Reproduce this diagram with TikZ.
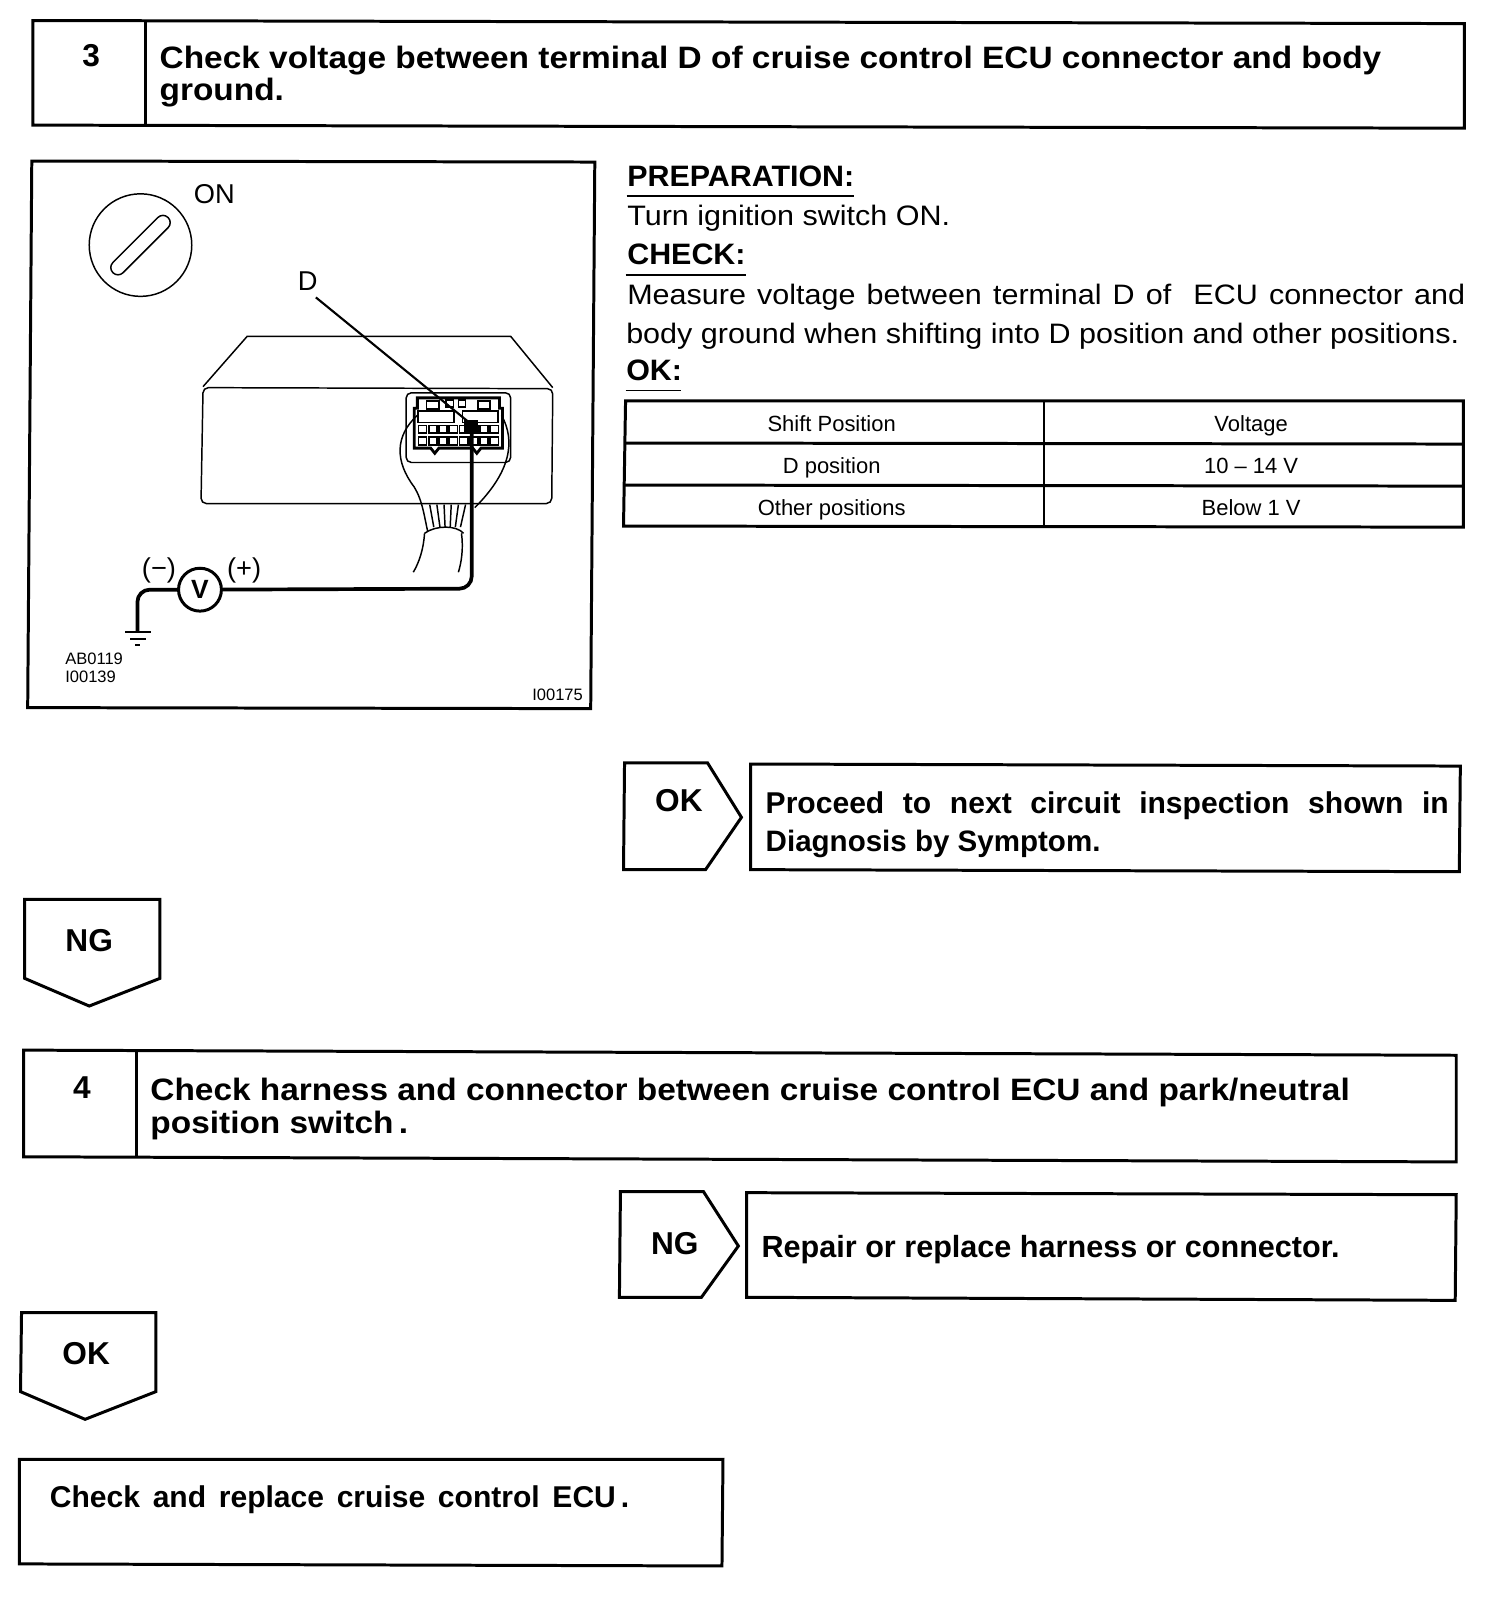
\documentclass[tikz,border=0pt]{standalone}
\usepackage{fontspec}
\setmainfont{Liberation Sans}
\newfontfamily\titlefont[FakeStretch=1.08]{Liberation Sans}
\newfontfamily\bodyfont[FakeStretch=1.085]{Liberation Sans}
\newfontfamily\prepfont[FakeStretch=1.03]{Liberation Sans}
\usetikzlibrary{calc}

\tikzset{
  boxline/.style={line width=0.85pt, line join=miter},
  thinline/.style={line width=0.42pt},
  probeline/.style={line width=1.05pt, rounded corners=3.5pt},
  titletext/.style={anchor=base west, inner sep=0pt, font=\fontsize{8.8}{10}\titlefont\bfseries},
  headtext/.style={anchor=base west, inner sep=0pt, font=\fontsize{8.55}{10}\selectfont\bfseries},
  prephead/.style={anchor=base west, inner sep=0pt, font=\fontsize{8.4}{10}\prepfont\bfseries},
  bodytext/.style={anchor=base west, inner sep=0pt, font=\fontsize{8}{10}\bodyfont},
  picttext/.style={inner sep=0pt, font=\fontsize{7.75}{10}\selectfont},
  celltext/.style={anchor=base, inner sep=0pt, font=\fontsize{6.25}{8}\selectfont},
  smalltext/.style={inner sep=0pt, font=\fontsize{4.7}{6}\selectfont},
  tagtext/.style={inner sep=0pt, font=\fontsize{9}{10}\selectfont\bfseries},
}

\begin{document}
\begin{tikzpicture}[x=0.10252mm, y=-0.10252mm]
  \useasboundingbox (0,0) rectangle (1467,1568);

  % step 3 title
  \draw[boxline] (32,20) -- (1428,23) -- (1428,125) -- (32,122) -- cycle;
  \draw[boxline] (142,21) -- (142,123);
  \node[tagtext] (numThree) at (89,54) {3};
  \node[titletext] (titleA) at (155,67) {Check voltage between terminal D of cruise control ECU connector and body};
  \node[titletext] (titleB) at (155,98) {ground.};

  % picture frame
  \draw[boxline] (31,157) -- (580,158) -- (576,691) -- (27,690) -- cycle;

  % ignition switch
  \draw[thinline] (137,239) circle (50);
  \draw[thinline, rotate around={45:(137,239)}, rounded corners=2pt] (99,232) rectangle (175,246);
  \node[picttext] (labelOn) at (209,189) {ON};

  % ECU body
  \draw[thinline] (198,377) -- (241,328) -- (498,328) -- (539,378);
  \draw[thinline, rounded corners=1.5pt] (198,378) -- (539,379) -- (538,491) -- (196,491) -- cycle;

  % connector
  \draw[thinline, rounded corners=1.5pt] (396,383) rectangle (498,451);
  \draw[line width=0.8pt] (407,392) -- (407,388) -- (487,388) -- (487,398) -- (490,398) -- (490,437)
    -- (469,437) -- (465,442) -- (461,437) -- (428,437) -- (424,442) -- (420,437) -- (404,437) -- (404,398) -- (407,398) -- cycle;
  \draw[line width=0.55pt] (408,401) rectangle (443,412);
  \draw[line width=0.55pt] (451,401) rectangle (486,412);
  \draw[thinline] (416,391) rectangle (428,399);
  \draw[thinline] (466,391) rectangle (478,399);
  \draw[thinline] (435,390) rectangle (442,397);
  \draw[thinline] (447,390) rectangle (454,397);
  \foreach \cx in {408,418,428,438,448,458,468,478}{
    \draw[line width=0.5pt] (\cx,415) rectangle ++(8,7);
    \draw[line width=0.5pt] (\cx,426) rectangle ++(8,8);
  }

  % harness
  \draw[thinline] (407,405) .. controls (385,425) and (385,450) .. (404,475) .. controls (412,488) and (414,505) .. (417,518);
  \draw[thinline] (489,405) .. controls (503,430) and (498,460) .. (463,495);
  \foreach \wa/\wb in {419/423,426/429,433/434,440/439,447/444,454/449}{
    \draw[thinline] (\wa,492) -- (\wb,514);
  }
  \draw[thinline] (414,520) .. controls (425,512) and (445,512) .. (452,520);
  \draw[thinline] (414,520) .. controls (413,535) and (409,548) .. (403,558);
  \draw[thinline] (450,520) .. controls (452,535) and (450,548) .. (447,558);

  % terminal and leader
  \coordinate (termD) at (460,414);
  \node[picttext] (labelD) at (300,274) {D};
  \coordinate (leadTop) at (308,290);
  \draw[line width=0.6pt] (leadTop) -- (termD);
  \fill (452,410) rectangle (466,421);

  % voltmeter
  \node[draw, circle, line width=0.85pt, minimum size=12.2pt, inner sep=0pt, font=\fontsize{7.5}{9}\selectfont\bfseries] (meter) at (195,575) {V};
  \coordinate (gnd) at (134,616);
  \draw[probeline] (termD) -- (460,574) -- (meter);
  \draw[probeline] (meter) -- (134,575) -- (gnd);
  \draw[line width=0.55pt] (122,616) -- (147,616);
  \draw[line width=0.55pt] (127,623) -- (142,623);
  \draw[line width=0.55pt] (132,629) -- (137,629);
  \node[picttext] (minus) at (155,556) {(−)};
  \node[picttext] (plus) at (238,556) {(+)};

  \node[smalltext, anchor=base west] (codeA) at (63,648) {AB0119};
  \node[smalltext, anchor=base west] (codeB) at (63,666) {I00139};
  \node[smalltext, anchor=base east] (codeC) at (569,683) {I00175};

  % preparation and check
  \node[prephead] (prep) at (611,182) {PREPARATION:};
  \draw[thinline] (611,191) -- (833,191);
  \node[bodytext] (prepText) at (611,220) {Turn ignition switch ON.};
  \node[prephead] (check) at (611,258) {CHECK:};
  \draw[thinline] (610,268) -- (727,268);
  \node[bodytext] (checkA) at (611,297) {\makebox[817\dimexpr0.10252mm\relax][s]{Measure voltage between terminal D of \ ECU connector and}};
  \node[bodytext] (checkB) at (610,335) {body ground when shifting into D position and other positions.};
  \node[prephead] (okHead) at (610,371) {OK:};
  \draw[thinline] (610,381) -- (664,381);

  % table
  \draw[boxline] (610,391) -- (1427,391) -- (1427,514) -- (608,513) -- cycle;
  \draw[boxline] (610,432) -- (1427,433);
  \draw[boxline] (609,473) -- (1427,474);
  \draw[line width=0.6pt] (1018,391) -- (1018,513);
  \node[celltext] (cellA) at (811,421) {Shift Position};
  \node[celltext] (cellB) at (1220,421) {Voltage};
  \node[celltext] (cellC) at (811,462) {D position};
  \node[celltext] (cellD) at (1220,462) {10 – 14 V};
  \node[celltext] (cellE) at (811,503) {Other positions};
  \node[celltext] (cellF) at (1220,503) {Below 1 V};

  % OK branch
  \draw[boxline] (609,744) -- (690,744) -- (723,797) -- (688,848) -- (608,848) -- cycle;
  \node[tagtext] (tagOkA) at (662,781) {OK};
  \draw[boxline] (732,745) -- (1424,747) -- (1423,850) -- (732,848) -- cycle;
  \node[headtext] (proceedA) at (746,793) {\makebox[666\dimexpr0.10252mm\relax][s]{Proceed to next circuit inspection shown in}};
  \node[headtext, font=\fontsize{8.4}{10}\selectfont\bfseries] (proceedB) at (746,830) {Diagnosis by Symptom.};

  % NG tag
  \draw[boxline] (24,877) -- (156,877) -- (156,954) -- (87,981) -- (24,954) -- cycle;
  \node[tagtext] (tagNgA) at (87,917) {NG};

  % step 4 title
  \draw[boxline] (23,1024) -- (1420,1029) -- (1420,1133) -- (23,1128) -- cycle;
  \draw[boxline] (133,1025) -- (133,1128);
  \node[tagtext] (numFour) at (80,1061) {4};
  \node[titletext] (titleC) at (146,1073) {Check harness and connector between cruise control ECU and park/neutral};
  \node[titletext] (titleD) at (146,1105) {position switch\,.};

  % NG branch
  \draw[boxline] (605,1162) -- (686,1162) -- (720,1215) -- (684,1265) -- (604,1265) -- cycle;
  \node[tagtext] (tagNgB) at (658,1213) {NG};
  \draw[boxline] (728,1163) -- (1420,1165) -- (1419,1268) -- (728,1265) -- cycle;
  \node[headtext, font=\fontsize{8.7}{10}\selectfont\bfseries] (repair) at (742,1226) {Repair or replace harness or connector.};

  % OK tag
  \draw[boxline] (21,1280) -- (152,1280) -- (152,1357) -- (83,1384) -- (20,1357) -- cycle;
  \node[tagtext] (tagOkB) at (84,1320) {OK};

  % last box
  \draw[boxline] (19,1423) -- (705,1423) -- (704,1527) -- (19,1525) -- cycle;
  \node[headtext] (replace) at (48,1470) {\makebox[565\dimexpr0.10252mm\relax][s]{Check and replace cruise control ECU\,.}};
\end{tikzpicture}
\end{document}
